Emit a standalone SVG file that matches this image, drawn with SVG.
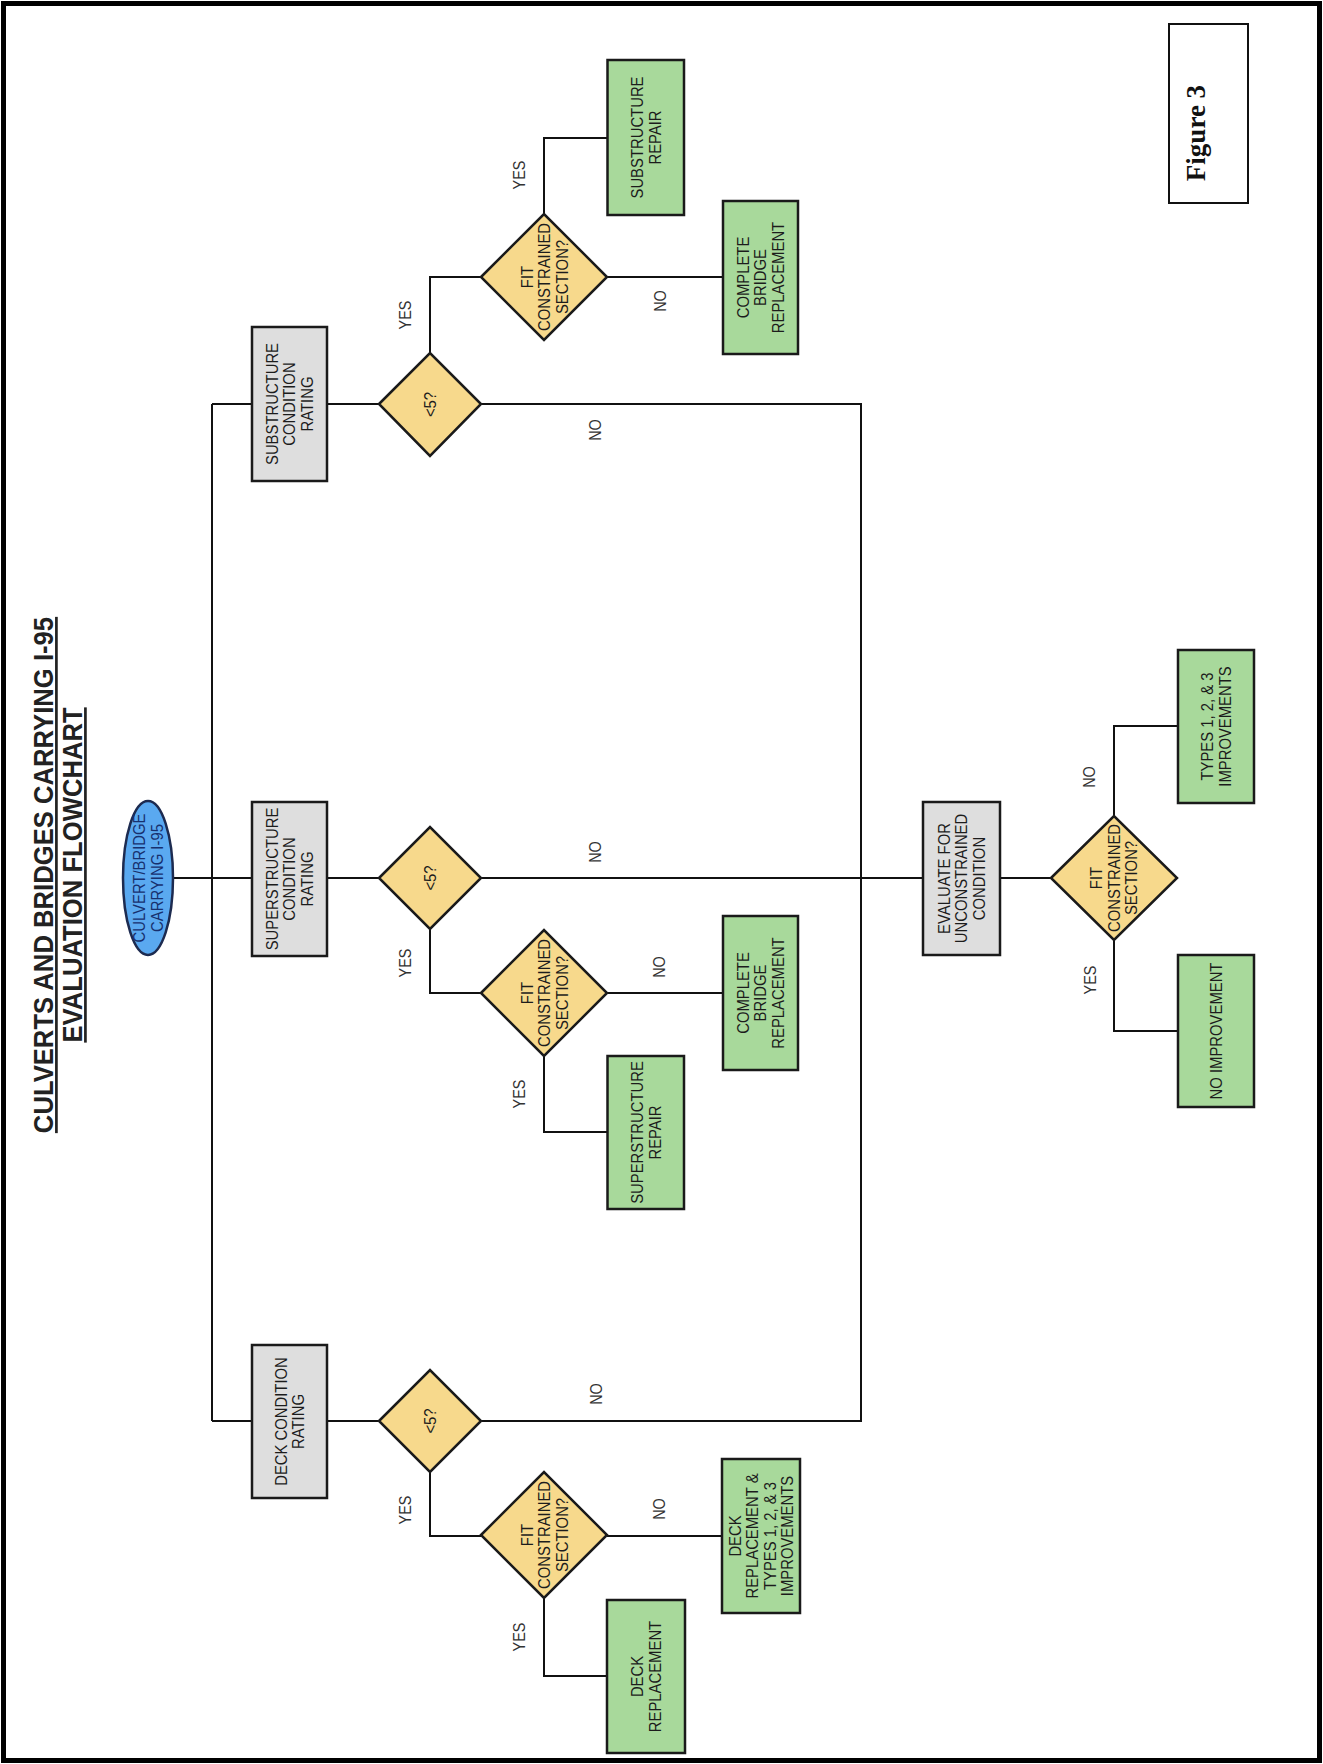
<svg xmlns="http://www.w3.org/2000/svg" width="1323" height="1764" viewBox="0 0 1323 1764">
<style>
.t{font-family:"Liberation Sans",Arial,sans-serif;font-size:16.5px;fill:#1c1c1c;text-anchor:middle}
.lbl{font-family:"Liberation Sans",Arial,sans-serif;font-size:16px;fill:#333;text-anchor:middle}
.title{font-family:"Liberation Sans",Arial,sans-serif;font-size:27px;font-weight:bold;fill:#222;text-anchor:middle;text-decoration:underline}
.fig{font-family:"Liberation Serif","Times New Roman",serif;font-size:27px;font-weight:bold;fill:#111;text-anchor:middle}
.gray{fill:#dedede;stroke:#1a1a1a;stroke-width:2.5}
.green{fill:#a8d99b;stroke:#1a1a1a;stroke-width:2.5}
.dia{fill:#f7d98c;stroke:#1a1a1a;stroke-width:2.5}
.conn{fill:none;stroke:#111;stroke-width:2}
</style>
<rect x="0" y="0" width="1323" height="1764" fill="#ffffff"/>
<rect x="3.5" y="3.5" width="1316" height="1757" fill="none" stroke="#000" stroke-width="5"/>

<g id="title">
<text class="title" transform="translate(58,875) rotate(-90) scale(0.95,1)"><tspan x="0" y="-5">CULVERTS AND BRIDGES CARRYING I-95</tspan><tspan x="0" y="24">EVALUATION FLOWCHART</tspan></text>
</g>

<g id="figure-label">
<rect x="1169" y="24" width="79" height="179" fill="#fff" stroke="#111" stroke-width="2"/>
<text class="fig" transform="translate(1196,133) rotate(-90)" x="0" y="8.9">Figure 3</text>
</g>

<g id="connectors">
<polyline class="conn" points="212,404 212,1421"/>
<polyline class="conn" points="212,404 252,404"/>
<polyline class="conn" points="173,878 252,878"/>
<polyline class="conn" points="212,1421 252,1421"/>
<polyline class="conn" points="327,404 379,404"/>
<polyline class="conn" points="327,878 379,878"/>
<polyline class="conn" points="327,1421 379,1421"/>
<polyline class="conn" points="430,353 430,277 481,277"/>
<polyline class="conn" points="544,214 544,138 607.5,138"/>
<polyline class="conn" points="607,277 723,277"/>
<polyline class="conn" points="481,404 861,404 861,1421 481,1421"/>
<polyline class="conn" points="481,878 923,878"/>
<polyline class="conn" points="430,929 430,993 481,993"/>
<polyline class="conn" points="607,993 723,993"/>
<polyline class="conn" points="544,1056 544,1132 607.5,1132"/>
<polyline class="conn" points="430,1472 430,1536 481,1536"/>
<polyline class="conn" points="607,1536 722,1536"/>
<polyline class="conn" points="544,1598 544,1676 607,1676"/>
<polyline class="conn" points="1000,878 1051,878"/>
<polyline class="conn" points="1114,816 1114,726 1178,726"/>
<polyline class="conn" points="1114,940 1114,1031 1178,1031"/>
</g>

<g id="edge-labels">
<text class="lbl" transform="translate(405,315) rotate(-90) scale(0.9,1)" x="0" y="5.7">YES</text>
<text class="lbl" transform="translate(519,175) rotate(-90) scale(0.9,1)" x="0" y="5.7">YES</text>
<text class="lbl" transform="translate(660,301) rotate(-90) scale(0.9,1)" x="0" y="5.7">NO</text>
<text class="lbl" transform="translate(595,430) rotate(-90) scale(0.9,1)" x="0" y="5.7">NO</text>
<text class="lbl" transform="translate(595,852) rotate(-90) scale(0.9,1)" x="0" y="5.7">NO</text>
<text class="lbl" transform="translate(405,963) rotate(-90) scale(0.9,1)" x="0" y="5.7">YES</text>
<text class="lbl" transform="translate(659,967) rotate(-90) scale(0.9,1)" x="0" y="5.7">NO</text>
<text class="lbl" transform="translate(519,1094) rotate(-90) scale(0.9,1)" x="0" y="5.7">YES</text>
<text class="lbl" transform="translate(596,1394) rotate(-90) scale(0.9,1)" x="0" y="5.7">NO</text>
<text class="lbl" transform="translate(405,1510) rotate(-90) scale(0.9,1)" x="0" y="5.7">YES</text>
<text class="lbl" transform="translate(659,1509) rotate(-90) scale(0.9,1)" x="0" y="5.7">NO</text>
<text class="lbl" transform="translate(519,1637) rotate(-90) scale(0.9,1)" x="0" y="5.7">YES</text>
<text class="lbl" transform="translate(1089,777) rotate(-90) scale(0.9,1)" x="0" y="5.7">NO</text>
<text class="lbl" transform="translate(1090,980) rotate(-90) scale(0.9,1)" x="0" y="5.7">YES</text>
</g>

<g id="start">
<ellipse cx="148" cy="878" rx="25" ry="77" fill="#5aa9f0" stroke="#1d2b50" stroke-width="2.5"/>
<text class="t" style="fill:#17306e" transform="translate(148,878) rotate(-90) scale(0.9,1)"><tspan x="0" y="-2.85">CULVERT/BRIDGE</tspan><tspan x="0" dy="17.5">CARRYING I-95</tspan></text>
</g>

<g id="substructure-rating">
<rect class="gray" x="252" y="327" width="75" height="154"/>
<text class="t" transform="translate(289.5,404) rotate(-90) scale(0.9,1)"><tspan x="0" y="-11.6">SUBSTRUCTURE</tspan><tspan x="0" dy="17.5">CONDITION</tspan><tspan x="0" dy="17.5">RATING</tspan></text>
</g>
<g id="superstructure-rating">
<rect class="gray" x="252" y="802" width="75" height="154"/>
<text class="t" transform="translate(289.5,879) rotate(-90) scale(0.9,1)"><tspan x="0" y="-11.6">SUPERSTRUCTURE</tspan><tspan x="0" dy="17.5">CONDITION</tspan><tspan x="0" dy="17.5">RATING</tspan></text>
</g>
<g id="deck-rating">
<rect class="gray" x="252" y="1345" width="75" height="153"/>
<text class="t" transform="translate(289.5,1421.5) rotate(-90) scale(0.9,1)"><tspan x="0" y="-2.85">DECK CONDITION</tspan><tspan x="0" dy="17.5">RATING</tspan></text>
</g>
<g id="evaluate-unconstrained">
<rect class="gray" x="923" y="802" width="77" height="153"/>
<text class="t" transform="translate(961.5,878.5) rotate(-90) scale(0.9,1)"><tspan x="0" y="-11.6">EVALUATE FOR</tspan><tspan x="0" dy="17.5">UNCONSTRAINED</tspan><tspan x="0" dy="17.5">CONDITION</tspan></text>
</g>

<g id="sub-lt5">
<polygon class="dia" points="379,404 430,353 481,404 430,456"/>
<text class="t" transform="translate(430,404.5) rotate(-90) scale(0.9,1)" x="0" y="5.9">&lt;5?</text>
</g>
<g id="super-lt5">
<polygon class="dia" points="379,878 430,827 481,878 430,929"/>
<text class="t" transform="translate(430,878) rotate(-90) scale(0.9,1)" x="0" y="5.9">&lt;5?</text>
</g>
<g id="deck-lt5">
<polygon class="dia" points="379,1421 430,1370 481,1421 430,1472"/>
<text class="t" transform="translate(430,1421) rotate(-90) scale(0.9,1)" x="0" y="5.9">&lt;5?</text>
</g>

<g id="sub-fit">
<polygon class="dia" points="481,277 544,214 607,277 544,340"/>
<text class="t" transform="translate(544.5,277) rotate(-90) scale(0.9,1)"><tspan x="0" y="-11.6">FIT</tspan><tspan x="0" dy="17.5">CONSTRAINED</tspan><tspan x="0" dy="17.5">SECTION?</tspan></text>
</g>
<g id="super-fit">
<polygon class="dia" points="481,993 544,930 607,993 544,1056"/>
<text class="t" transform="translate(544.5,993) rotate(-90) scale(0.9,1)"><tspan x="0" y="-11.6">FIT</tspan><tspan x="0" dy="17.5">CONSTRAINED</tspan><tspan x="0" dy="17.5">SECTION?</tspan></text>
</g>
<g id="deck-fit">
<polygon class="dia" points="481,1535 544,1472 607,1535 544,1598"/>
<text class="t" transform="translate(544.5,1535) rotate(-90) scale(0.9,1)"><tspan x="0" y="-11.6">FIT</tspan><tspan x="0" dy="17.5">CONSTRAINED</tspan><tspan x="0" dy="17.5">SECTION?</tspan></text>
</g>
<g id="eval-fit">
<polygon class="dia" points="1051,878 1114,816 1177,878 1114,940"/>
<text class="t" transform="translate(1114,878) rotate(-90) scale(0.9,1)"><tspan x="0" y="-11.6">FIT</tspan><tspan x="0" dy="17.5">CONSTRAINED</tspan><tspan x="0" dy="17.5">SECTION?</tspan></text>
</g>

<g id="substructure-repair">
<rect class="green" x="607.5" y="60" width="76.5" height="155"/>
<text class="t" transform="translate(646,137.5) rotate(-90) scale(0.9,1)"><tspan x="0" y="-2.85">SUBSTRUCTURE</tspan><tspan x="0" dy="17.5">REPAIR</tspan></text>
</g>
<g id="sub-complete-replacement">
<rect class="green" x="723" y="201" width="75" height="153"/>
<text class="t" transform="translate(760.5,277.5) rotate(-90) scale(0.9,1)"><tspan x="0" y="-11.6">COMPLETE</tspan><tspan x="0" dy="17.5">BRIDGE</tspan><tspan x="0" dy="17.5">REPLACEMENT</tspan></text>
</g>
<g id="superstructure-repair">
<rect class="green" x="607.5" y="1056" width="76.5" height="153"/>
<text class="t" transform="translate(646,1132.5) rotate(-90) scale(0.9,1)"><tspan x="0" y="-2.85">SUPERSTRUCTURE</tspan><tspan x="0" dy="17.5">REPAIR</tspan></text>
</g>
<g id="super-complete-replacement">
<rect class="green" x="723" y="916" width="75" height="154"/>
<text class="t" transform="translate(760.5,993) rotate(-90) scale(0.9,1)"><tspan x="0" y="-11.6">COMPLETE</tspan><tspan x="0" dy="17.5">BRIDGE</tspan><tspan x="0" dy="17.5">REPLACEMENT</tspan></text>
</g>
<g id="deck-replacement">
<rect class="green" x="607" y="1600" width="78" height="153"/>
<text class="t" transform="translate(646,1676.5) rotate(-90) scale(0.9,1)"><tspan x="0" y="-2.85">DECK</tspan><tspan x="0" dy="17.5">REPLACEMENT</tspan></text>
</g>
<g id="deck-replacement-types">
<rect class="green" x="722" y="1459" width="78" height="154"/>
<text class="t" transform="translate(761,1536) rotate(-90) scale(0.9,1)"><tspan x="0" y="-20.35">DECK</tspan><tspan x="0" dy="17.5">REPLACEMENT &amp;</tspan><tspan x="0" dy="17.5">TYPES 1, 2, &amp; 3</tspan><tspan x="0" dy="17.5">IMPROVEMENTS</tspan></text>
</g>
<g id="types-improvements">
<rect class="green" x="1178" y="650" width="76" height="153"/>
<text class="t" transform="translate(1216,726.5) rotate(-90) scale(0.9,1)"><tspan x="0" y="-2.85">TYPES 1, 2, &amp; 3</tspan><tspan x="0" dy="17.5">IMPROVEMENTS</tspan></text>
</g>
<g id="no-improvement">
<rect class="green" x="1178" y="955" width="76" height="152"/>
<text class="t" transform="translate(1216,1031) rotate(-90) scale(0.9,1)" x="0" y="5.9">NO IMPROVEMENT</text>
</g>
</svg>
